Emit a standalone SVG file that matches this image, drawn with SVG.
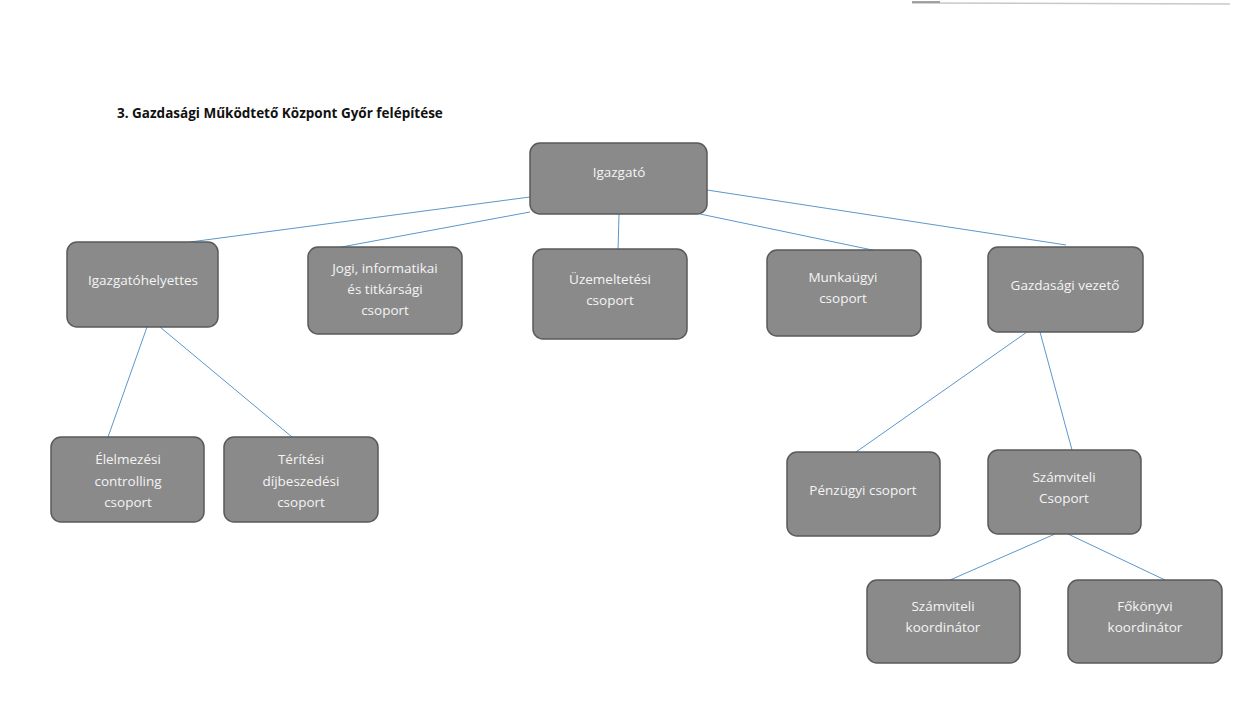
<svg xmlns="http://www.w3.org/2000/svg" width="1233" height="727" viewBox="0 0 1233 727">
<style>
.box{fill:#8a8a8a;stroke:#5a5a5a;stroke-width:1.5}
.t{font-family:"Open Sans","Liberation Sans",sans-serif;font-size:13.5px;fill:#f4f4f4;text-anchor:middle}
.c line{stroke:#5b97cc;stroke-width:1}
.title{font-family:"Open Sans","Liberation Sans",sans-serif;font-size:13.5px;font-weight:bold;fill:#111}
</style>
<rect width="1233" height="727" fill="#fff"/>
<line x1="912" y1="3" x2="1230" y2="4" stroke="#c8c8c8" stroke-width="1.5"/>
<line x1="912" y1="2" x2="940" y2="2" stroke="#888" stroke-width="1.5"/>
<text class="title" x="117" y="118">3. Gazdasági Működtető Központ Győr felépítése</text>
<g class="c" id="connectors">
<line x1="530" y1="197" x2="190" y2="242"/>
<line x1="530" y1="212" x2="336" y2="248"/>
<line x1="619" y1="214" x2="618" y2="252"/>
<line x1="700" y1="214" x2="882" y2="252"/>
<line x1="707" y1="190" x2="1066" y2="245"/>
<line x1="147" y1="327" x2="108" y2="437"/>
<line x1="160" y1="327" x2="292" y2="437"/>
<line x1="1027" y1="332" x2="856" y2="452"/>
<line x1="1040" y1="332" x2="1072" y2="450"/>
<line x1="1055" y1="534" x2="950" y2="580"/>
<line x1="1068" y1="534" x2="1165" y2="580"/>
</g>
<g id="igazgato"><rect class="box" x="530" y="143" width="177" height="71" rx="10"/><text class="t" x="619" y="177">Igazgató</text></g>
<g id="igazgatohelyettes"><rect class="box" x="67" y="242" width="151" height="85" rx="10"/><text class="t" x="143" y="285">Igazgatóhelyettes</text></g>
<g id="jogi"><rect class="box" x="308" y="247" width="154" height="87" rx="10"/><text class="t" x="385" y="273">Jogi, informatikai</text><text class="t" x="385" y="294">és titkársági</text><text class="t" x="385" y="315">csoport</text></g>
<g id="uzemeltetesi"><rect class="box" x="533" y="249" width="154" height="90" rx="10"/><text class="t" x="610" y="284">Üzemeltetési</text><text class="t" x="610" y="305">csoport</text></g>
<g id="munkaugyi"><rect class="box" x="767" y="250" width="154" height="86" rx="10"/><text class="t" x="843" y="282">Munkaügyi</text><text class="t" x="843" y="303">csoport</text></g>
<g id="gazdasagi"><rect class="box" x="988" y="247" width="155" height="85" rx="10"/><text class="t" x="1065" y="290">Gazdasági vezető</text></g>
<g id="elelmezesi"><rect class="box" x="51" y="437" width="153" height="85" rx="10"/><text class="t" x="128" y="464">Élelmezési</text><text class="t" x="128" y="486">controlling</text><text class="t" x="128" y="507">csoport</text></g>
<g id="teritesi"><rect class="box" x="224" y="437" width="154" height="85" rx="10"/><text class="t" x="301" y="464">Térítési</text><text class="t" x="301" y="486">díjbeszedési</text><text class="t" x="301" y="507">csoport</text></g>
<g id="penzugyi"><rect class="box" x="787" y="452" width="153" height="84" rx="10"/><text class="t" x="863" y="495">Pénzügyi csoport</text></g>
<g id="szamviteli-csoport"><rect class="box" x="988" y="450" width="153" height="84" rx="10"/><text class="t" x="1064" y="482">Számviteli</text><text class="t" x="1064" y="503">Csoport</text></g>
<g id="szamviteli-koord"><rect class="box" x="867" y="580" width="153" height="83" rx="10"/><text class="t" x="943" y="611">Számviteli</text><text class="t" x="943" y="632">koordinátor</text></g>
<g id="fokonyvi"><rect class="box" x="1068" y="580" width="154" height="83" rx="10"/><text class="t" x="1145" y="611">Főkönyvi</text><text class="t" x="1145" y="632">koordinátor</text></g>
</svg>
